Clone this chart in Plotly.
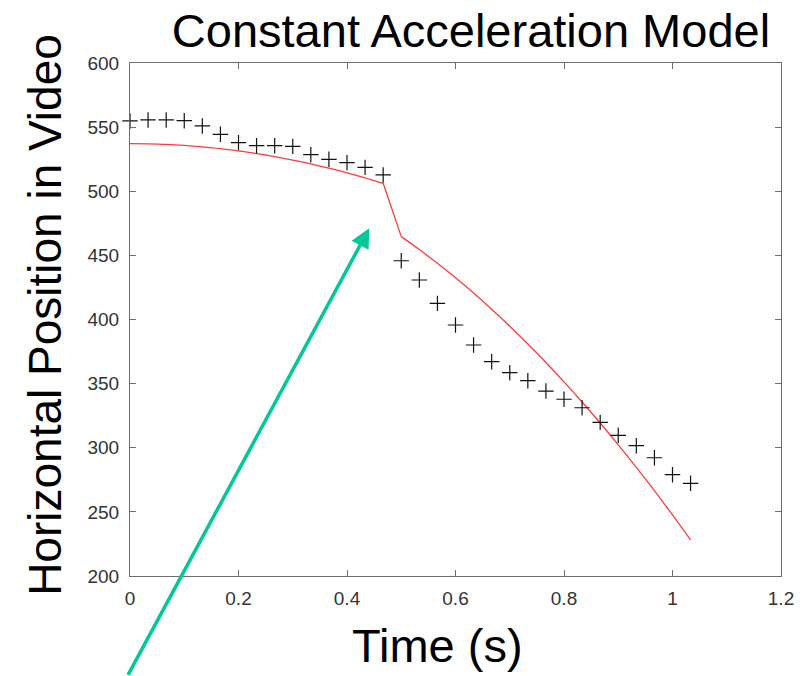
import plotly.graph_objects as go

# Measured positions (crosses), time in seconds (1/30 s frames)
t_meas = [0.0, 0.0333, 0.0667, 0.1, 0.1333, 0.1667, 0.2, 0.2333, 0.2667, 0.3,
          0.3333, 0.3667, 0.4, 0.4333, 0.4667, 0.5, 0.5333, 0.5667, 0.6, 0.6333,
          0.6667, 0.7, 0.7333, 0.7667, 0.8, 0.8333, 0.8667, 0.9, 0.9333, 0.9667,
          1.0, 1.0333]
x_meas = [554.8, 555.6, 555.6, 555.0, 550.9, 544.4, 537.9, 535.5, 535.5, 535.0,
          528.5, 524.9, 522.3, 518.6, 512.7, 445.8, 430.8, 412.6, 395.7, 380.1,
          367.1, 358.5, 352.3, 344.2, 337.8, 331.2, 319.8, 309.7, 301.6, 292.2,
          279.0, 272.3]

# Constant acceleration model (red line), two pieces joined at the jump
t_model = t_meas
x_model = [537.1, 536.9, 536.5, 535.7, 534.6, 533.2, 531.4, 529.4, 527.0, 524.3,
           521.3, 518.0, 514.4, 510.5, 506.2, 464.6, 454.5, 443.8, 432.5, 420.6,
           408.0, 394.8, 380.9, 366.5, 351.4, 335.7, 319.3, 302.3, 284.7, 266.5,
           247.6, 228.1]
jump_index = 14  # last point of the first piece

x_ticks = [0, 0.2, 0.4, 0.6, 0.8, 1, 1.2]
x_tick_labels = ["0", "0.2", "0.4", "0.6", "0.8", "1", "1.2"]
y_ticks = [200, 250, 300, 350, 400, 450, 500, 550, 600]

# arrow tip (data coords)
arrow_tip = (0.441, 471.1)

FONT = "Liberation Sans, Arial, sans-serif"
AXC = "#6e6e6e"
RED = "#ff3b3b"

fig = go.Figure()
j = jump_index
pieces = [
    (t_model[:j + 1], x_model[:j + 1], "spline"),
    (t_model[j:j + 2], x_model[j:j + 2], "linear"),
    (t_model[j + 1:], x_model[j + 1:], "spline"),
]
for tx, vx, shape in pieces:
    fig.add_trace(go.Scatter(
        x=tx, y=vx, mode="lines",
        line=dict(color=RED, width=1.3, shape=shape, smoothing=0.8),
        showlegend=False, cliponaxis=False))
fig.add_trace(go.Scatter(
    x=t_meas, y=x_meas, mode="markers",
    marker=dict(symbol="cross-thin-open", size=11, color="#111111",
                line=dict(color="#111111", width=1.2)),
    showlegend=False, cliponaxis=False))

axis_common = dict(
    showgrid=False, zeroline=False, showline=True, linecolor=AXC, linewidth=1,
    mirror="ticks", ticks="inside", ticklen=6, tickcolor=AXC, tickwidth=1,
    tickfont=dict(family=FONT, size=19, color="#333333"),
)

fig.update_xaxes(range=[0, 1.2], tickvals=x_ticks, ticktext=x_tick_labels,
                 ticklabelstandoff=5, **axis_common)
fig.update_yaxes(range=[200, 600], tickvals=y_ticks,
                 ticklabelstandoff=6, **axis_common)

fig.add_annotation(x=arrow_tip[0], y=arrow_tip[1], xref="x", yref="y",
                   ax=-242, ay=448, axref="pixel", ayref="pixel",
                   text="", showarrow=True, arrowhead=2, arrowsize=1.1,
                   arrowwidth=3.5, arrowcolor="#00c896")

fig.add_annotation(text="Time (s)", xref="paper", yref="paper",
                   x=0.4716, y=-0.136, xanchor="center", yanchor="middle",
                   showarrow=False, font=dict(family=FONT, size=47, color="#000000"))
fig.add_annotation(text="Horizontal Position in Video", xref="paper", yref="paper",
                   x=-0.1306, y=0.509, xanchor="center", yanchor="middle",
                   textangle=-90, showarrow=False,
                   font=dict(family=FONT, size=46, color="#000000"))

# page body has an 8px default margin; offsets compensate for it
fig.update_layout(
    width=806, height=676,
    margin=dict(l=122, r=33, t=55, b=108),
    paper_bgcolor="white", plot_bgcolor="white",
    title=dict(text="Constant Acceleration Model", x=463 / 806, xanchor="center",
               y=1 - 23 / 676, yanchor="middle", yref="container",
               font=dict(family=FONT, size=47, color="#000000")),
)

fig.write_html("out.html")
